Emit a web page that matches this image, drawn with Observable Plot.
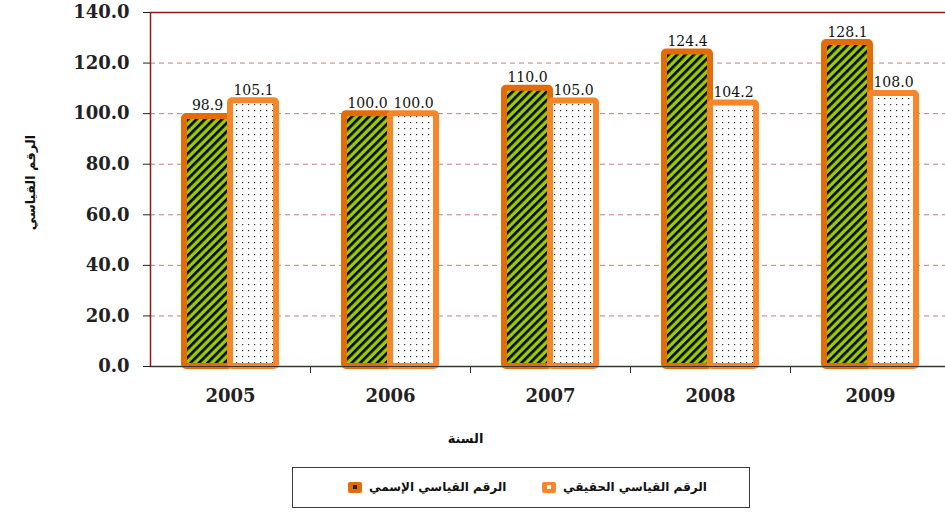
<!DOCTYPE html>
<html><head><meta charset="utf-8">
<script src="https://cdn.jsdelivr.net/npm/d3@7"></script>
<script src="https://cdn.jsdelivr.net/npm/@observablehq/plot@0.6"></script>
<style>
html,body{margin:0;padding:0;background:#fff;overflow:hidden;}
#wrap{position:relative;width:945px;height:513px;}
.legend{position:absolute;left:292px;top:467px;width:458px;height:41px;box-sizing:border-box;border:1.5px solid #3a3a3a;font-family:"DejaVu Sans";font-size:12px;font-weight:bold;color:#111;}
.item{position:absolute;top:11px;display:flex;align-items:center;height:16px;}
.sw{width:14px;height:11px;border-radius:2px;margin-right:7px;position:relative;}
.sw i{position:absolute;left:5px;top:3.5px;width:4px;height:4px;}
</style></head>
<body><div id="wrap"><div id="chart"></div>
<div class="legend" id="legend"></div></div>
<script>
const years = ["2005","2006","2007","2008","2009"];
const nominal = [98.9, 100.0, 110.0, 124.4, 128.1];
const real = [105.1, 100.0, 105.0, 104.2, 108.0];
const seriesNames = ["الرقم القياسي الإسمي", "الرقم القياسي الحقيقي"];
const yTicks = [0, 20, 40, 60, 80, 100, 120, 140];
const xTitle = "السنة";
const yTitle = "الرقم القياسي";

const nomData = years.map((y, i) => ({year: y, value: nominal[i]}));
const realData = years.map((y, i) => ({year: y, value: real[i]}));
const fmt = d3.format(".1f");

const plot = Plot.plot({
  width: 945, height: 462,
  marginTop: 12, marginLeft: 150, marginRight: -5, marginBottom: 96,
  style: {background: "#fff", overflow: "hidden", color: "#222"},
  x: {domain: years, padding: 0},
  y: {domain: [0, 140]},
  marks: [
    Plot.ruleY(yTicks.filter(t => t > 0 && t < 140), {stroke: "#b5504c", strokeDasharray: "5,4", strokeOpacity: 0.75}),
    Plot.frame({stroke: "#8b1c1c", strokeWidth: 1.5}),
    Plot.barY(nomData, {x: "year", y: "value", fill: "url(#hatch)", stroke: "#e36c09", strokeWidth: 6, insetLeft: 34, insetRight: 80, rx: 2}),
    Plot.barY(realData, {x: "year", y: "value", fill: "url(#dots)", stroke: "#f5862a", strokeWidth: 6, insetLeft: 80, insetRight: 34, rx: 2}),
    Plot.ruleY([0], {stroke: "#333", strokeWidth: 1.2}),
    Plot.ruleX(years.slice(1), {x: d => d, dx: -80, y1: 0, y2: -2.8, stroke: "#333"}),
    Plot.axisY({ticks: yTicks, tickFormat: fmt, tickSize: 7, tickPadding: 14, fontSize: 18, fontWeight: "bold", fontFamily: "DejaVu Serif", label: null}),
    Plot.axisX({tickSize: 0, tickPadding: 23, fontSize: 18, fontWeight: "bold", fontFamily: "DejaVu Serif", label: null}),
    Plot.text(nomData, {x: "year", y: "value", text: d => fmt(d.value), dx: -23, dy: -6, lineAnchor: "bottom", fontSize: 14, fontFamily: "DejaVu Serif", fill: "#111"}),
    Plot.text(realData, {x: "year", y: "value", text: d => fmt(d.value), dx: 23, dy: -6, lineAnchor: "bottom", fontSize: 14, fontFamily: "DejaVu Serif", fill: "#111"}),
    Plot.text([yTitle], {frameAnchor: "left", textAnchor: "middle", dx: -120, dy: -7, rotate: -90, fontSize: 13, fontWeight: "bold", fontFamily: "DejaVu Sans", fill: "#111"}),
    Plot.text([xTitle], {frameAnchor: "bottom", textAnchor: "middle", dx: -85, dy: 76, fontSize: 13, fontWeight: "bold", fontFamily: "DejaVu Sans", fill: "#111"})
  ]
});

const defs = d3.select(plot).insert("defs", ":first-child");
const hatch = defs.append("pattern").attr("id", "hatch").attr("patternUnits", "userSpaceOnUse")
  .attr("width", 6).attr("height", 6).attr("patternTransform", "rotate(45)");
hatch.append("rect").attr("width", 6).attr("height", 6).attr("fill", "#99cc00");
hatch.append("rect").attr("width", 2.6).attr("height", 6).attr("fill", "#000");
const dots = defs.append("pattern").attr("id", "dots").attr("patternUnits", "userSpaceOnUse")
  .attr("width", 6).attr("height", 6);
dots.append("rect").attr("width", 6).attr("height", 6).attr("fill", "#fff");
dots.append("rect").attr("x", 2).attr("y", 2).attr("width", 1.2).attr("height", 1.2).attr("fill", "#333");

document.getElementById("chart").appendChild(plot);

const legend = document.getElementById("legend");
const items = [
  {name: seriesNames[0], color: "#e36c09", inner: "#222", left: 55},
  {name: seriesNames[1], color: "#f5862a", inner: "#fff", left: 249}
];
items.forEach(it => {
  const d = document.createElement("div");
  d.className = "item";
  d.style.left = it.left + "px";
  d.innerHTML = `<span class="sw" style="background:${it.color}"><i style="background:${it.inner}"></i></span><span dir="rtl">${it.name}</span>`;
  legend.appendChild(d);
});
</script>
</body></html>
